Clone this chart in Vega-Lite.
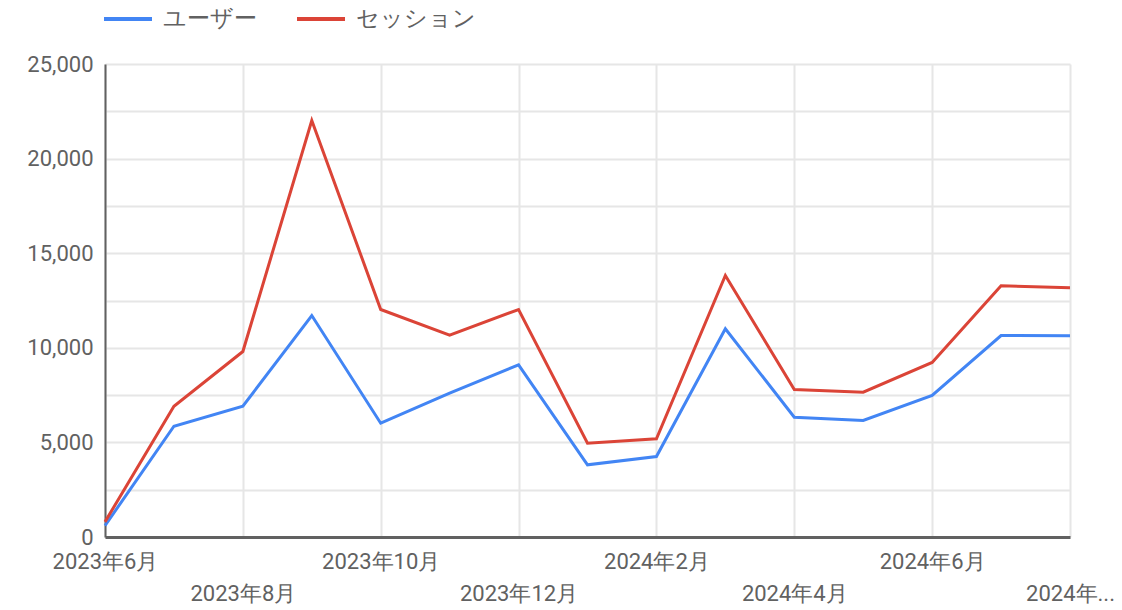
{
  "$schema": "https://vega.github.io/schema/vega-lite/v6.json",
  "autosize": "none",
  "width": 965,
  "height": 473,
  "padding": {"left": 105, "top": 64, "right": 52, "bottom": 73},
  "background": "white",
  "config": {
    "font": "Roboto",
    "view": {"stroke": null},
    "axis": {"labelFont": "Roboto", "labelColor": "#616161", "labelFontSize": 22}
  },
  "data": {
    "values": [
      {"month": "2023年6月", "series": "ユーザー", "value": 600},
      {"month": "2023年7月", "series": "ユーザー", "value": 5856},
      {"month": "2023年8月", "series": "ユーザー", "value": 6913},
      {"month": "2023年9月", "series": "ユーザー", "value": 11707},
      {"month": "2023年10月", "series": "ユーザー", "value": 6015},
      {"month": "2023年11月", "series": "ユーザー", "value": 7600},
      {"month": "2023年12月", "series": "ユーザー", "value": 9101},
      {"month": "2024年1月", "series": "ユーザー", "value": 3816},
      {"month": "2024年2月", "series": "ユーザー", "value": 4255},
      {"month": "2024年3月", "series": "ユーザー", "value": 11004},
      {"month": "2024年4月", "series": "ユーザー", "value": 6332},
      {"month": "2024年5月", "series": "ユーザー", "value": 6157},
      {"month": "2024年6月", "series": "ユーザー", "value": 7479},
      {"month": "2024年7月", "series": "ユーザー", "value": 10650},
      {"month": "2024年8月", "series": "ユーザー", "value": 10640},
      {"month": "2023年6月", "series": "セッション", "value": 800},
      {"month": "2023年7月", "series": "セッション", "value": 6913},
      {"month": "2023年8月", "series": "セッション", "value": 9804},
      {"month": "2023年9月", "series": "セッション", "value": 22013},
      {"month": "2023年10月", "series": "セッション", "value": 12024},
      {"month": "2023年11月", "series": "セッション", "value": 10666},
      {"month": "2023年12月", "series": "セッション", "value": 12024},
      {"month": "2024年1月", "series": "セッション", "value": 4958},
      {"month": "2024年2月", "series": "セッション", "value": 5190},
      {"month": "2024年3月", "series": "セッション", "value": 13821},
      {"month": "2024年4月", "series": "セッション", "value": 7796},
      {"month": "2024年5月", "series": "セッション", "value": 7653},
      {"month": "2024年6月", "series": "セッション", "value": 9223},
      {"month": "2024年7月", "series": "セッション", "value": 13277},
      {"month": "2024年8月", "series": "セッション", "value": 13171}
    ]
  },
  "resolve": {"axis": {"x": "independent", "y": "independent"}},
  "layer": [
    {
      "mark": {"type": "line", "opacity": 0},
      "encoding": {
        "x": {
          "field": "month", "type": "ordinal", "sort": null,
          "scale": {"type": "point", "padding": 0},
          "axis": {
            "title": null, "orient": "bottom",
            "values": ["2023年8月", "2023年12月", "2024年4月", "2024年8月"],
            "labelExpr": "datum.value == '2024年8月' ? '2024年...' : datum.value",
            "labelAngle": 0, "labelPadding": 46, "labelBaseline": "top",
            "labelOverlap": false, "labelBound": false, "labelFlush": false,
            "grid": false, "domain": false, "ticks": false
          }
        },
        "y": {"field": "value", "type": "quantitative", "scale": {"domain": [0, 25000]}, "axis": null},
        "detail": {"field": "series"}
      }
    },
    {
      "mark": {"type": "line", "strokeWidth": 3, "strokeJoin": "miter"},
      "encoding": {
        "x": {
          "field": "month", "type": "ordinal", "sort": null,
          "scale": {"type": "point", "padding": 0},
          "axis": {
            "title": null, "orient": "bottom",
            "values": ["2023年6月", "2023年8月", "2023年10月", "2023年12月", "2024年2月", "2024年4月", "2024年6月", "2024年8月"],
            "labelExpr": "indexof(['2023年6月', '2023年10月', '2024年2月', '2024年6月'], datum.value) >= 0 ? datum.value : ''",
            "labelAngle": 0, "labelPadding": 14, "labelBaseline": "top",
            "labelOverlap": false, "labelBound": false, "labelFlush": false,
            "grid": true, "gridColor": "#e6e6e6", "gridWidth": 2,
            "domain": true, "domainColor": "#616161", "domainWidth": 3,
            "ticks": false
          }
        },
        "y": {
          "field": "value", "type": "quantitative",
          "scale": {"domain": [0, 25000]},
          "axis": {
            "title": null,
            "values": [0, 2500, 5000, 7500, 10000, 12500, 15000, 17500, 20000, 22500, 25000],
            "labelExpr": "datum.value % 5000 === 0 ? format(datum.value, ',') : ''",
            "labelPadding": 12,
            "grid": true, "gridColor": "#e6e6e6", "gridWidth": 2,
            "domain": true, "domainColor": "#616161", "domainWidth": 2,
            "ticks": false
          }
        },
        "color": {
          "field": "series", "type": "nominal",
          "scale": {"domain": ["ユーザー", "セッション"], "range": ["#4285F4", "#DB4437"]},
          "legend": {
            "title": null, "orient": "none", "direction": "horizontal",
            "legendX": -3, "legendY": -71,
            "symbolType": "stroke", "symbolSize": 2304, "symbolStrokeWidth": 4,
            "labelFont": "Roboto", "labelFontSize": 23, "labelColor": "#616161",
            "labelOffset": 9, "columnPadding": 32, "labelLimit": 300
          }
        }
      }
    }
  ]
}
